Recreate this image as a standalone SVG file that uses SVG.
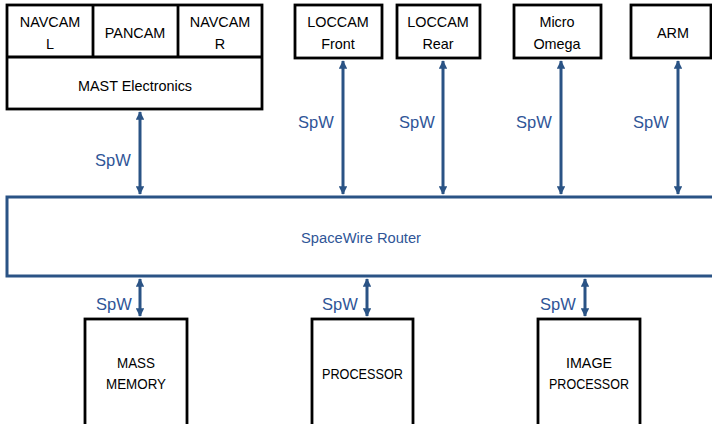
<svg xmlns="http://www.w3.org/2000/svg" width="712" height="424" viewBox="0 0 712 424">
<style>
.box{fill:#fff;stroke:#000;stroke-width:2.8}
.router{fill:#fff;stroke:#2a5385;stroke-width:3}
.t{font-family:"Liberation Sans",Arial,sans-serif;font-size:14.4px;fill:#000;text-anchor:middle}
.n{font-family:"Liberation Sans",Arial,sans-serif;font-size:15.5px;fill:#000;text-anchor:middle}
.b{font-family:"Liberation Sans",Arial,sans-serif;font-size:16.5px;fill:#2f5597;text-anchor:middle}
.r{font-family:"Liberation Sans",Arial,sans-serif;font-size:14.7px;fill:#2f5597;text-anchor:middle}
.c{stroke:#2a5385;stroke-width:3;fill:none;marker-start:url(#ah);marker-end:url(#ah)}
</style>
<defs>
<marker id="ah" viewBox="0 0 10 10" refX="9" refY="5" markerWidth="2.9" markerHeight="2.9" orient="auto-start-reverse" markerUnits="strokeWidth">
<path d="M0,0 L10,5 L0,10 Z" fill="#2a5385"/>
</marker>
</defs>
<g id="router">
<rect class="router" x="7" y="197" width="720" height="79"/>
<text class="r" x="361" y="243">SpaceWire Router</text>
</g>
<g id="mast">
<rect class="box" x="7" y="5" width="255" height="104"/>
<line x1="7" y1="57" x2="262" y2="57" stroke="#000" stroke-width="2.8"/>
<line x1="93" y1="5" x2="93" y2="57" stroke="#000" stroke-width="2.8"/>
<line x1="178" y1="5" x2="178" y2="57" stroke="#000" stroke-width="2.8"/>
<text class="t" x="50" y="27">NAVCAM</text>
<text class="t" x="50" y="49">L</text>
<text class="t" x="135" y="38">PANCAM</text>
<text class="t" x="220" y="27">NAVCAM</text>
<text class="t" x="220" y="49">R</text>
<text class="t" x="135" y="91">MAST Electronics</text>
</g>
<g id="loccam-front">
<rect class="box" x="295" y="5" width="87" height="53"/>
<text class="t" x="338" y="27">LOCCAM</text>
<text class="t" x="338" y="49">Front</text>
</g>
<g id="loccam-rear">
<rect class="box" x="397" y="5" width="83" height="53"/>
<text class="t" x="438" y="27">LOCCAM</text>
<text class="t" x="438" y="49">Rear</text>
</g>
<g id="micro-omega">
<rect class="box" x="514" y="5" width="87" height="53"/>
<text class="t" x="557" y="27">Micro</text>
<text class="t" x="557" y="49">Omega</text>
</g>
<g id="arm">
<rect class="box" x="631" y="5" width="80" height="53"/>
<text class="t" x="673" y="38">ARM</text>
</g>
<g id="mass-memory">
<rect class="box" x="85" y="319" width="102" height="120"/>
<text class="n" x="136" y="368" textLength="38" lengthAdjust="spacingAndGlyphs">MASS</text>
<text class="n" x="136" y="389" textLength="60" lengthAdjust="spacingAndGlyphs">MEMORY</text>
</g>
<g id="processor">
<rect class="box" x="312" y="319" width="101" height="120"/>
<text class="n" x="362.5" y="379" textLength="81" lengthAdjust="spacingAndGlyphs">PROCESSOR</text>
</g>
<g id="image-processor">
<rect class="box" x="538" y="319" width="102" height="120"/>
<text class="n" x="589" y="368" textLength="46" lengthAdjust="spacingAndGlyphs">IMAGE</text>
<text class="n" x="589" y="389" textLength="80" lengthAdjust="spacingAndGlyphs">PROCESSOR</text>
</g>
<g id="connectors">
<line class="c" x1="140" y1="112" x2="140" y2="194"/>
<line class="c" x1="343" y1="61" x2="343" y2="194"/>
<line class="c" x1="443" y1="61" x2="443" y2="194"/>
<line class="c" x1="561" y1="61" x2="561" y2="194"/>
<line class="c" x1="678" y1="61" x2="678" y2="194"/>
<line class="c" x1="140" y1="279" x2="140" y2="316"/>
<line class="c" x1="367" y1="279" x2="367" y2="316"/>
<line class="c" x1="585" y1="279" x2="585" y2="316"/>
<text class="b" x="113" y="166">SpW</text>
<text class="b" x="316" y="128">SpW</text>
<text class="b" x="417" y="128">SpW</text>
<text class="b" x="534" y="128">SpW</text>
<text class="b" x="651" y="128">SpW</text>
<text class="b" x="114" y="310">SpW</text>
<text class="b" x="340" y="310">SpW</text>
<text class="b" x="558" y="310">SpW</text>
</g>
</svg>
